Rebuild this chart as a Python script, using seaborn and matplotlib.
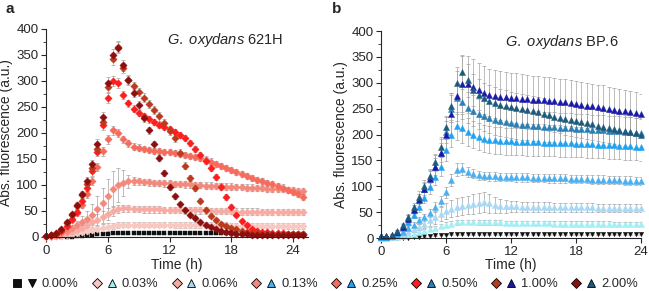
import matplotlib
matplotlib.use("Agg")
import matplotlib.pyplot as plt
import numpy as np
import pandas as pd
import seaborn as sns
from matplotlib.lines import Line2D
from matplotlib.legend_handler import HandlerTuple
from matplotlib.ticker import MultipleLocator

# ---- data (30 min sampling) ----
conc_labels = ["0.00%", "0.03%", "0.06%", "0.13%", "0.25%", "0.50%", "1.00%", "2.00%"]

time_a = np.arange(0, 25.01, 0.5)
time_b = np.arange(0, 24.01, 0.5)

# panel a: G. oxydans 621H
a_000 = [0, 0, 0, 0, 0, 0, 1, 2, 3, 4, 5, 6, 6, 7, 7, 7, 7, 7, 7, 7, 7, 7, 7, 7, 7, 7,
         7, 7, 7, 7, 7, 7, 7, 7, 7, 7, 7, 7, 7, 7, 6, 6, 6, 6, 6, 6, 6, 6, 6, 6, 6]
a_003 = [0, 0, 1, 2, 3, 5, 7, 9, 11, 13, 15, 17, 19, 21, 23, 24, 24, 24, 24, 24, 24, 24, 24, 24, 24, 23,
         23, 23, 23, 23, 23, 23, 23, 23, 23, 23, 22, 22, 22, 22, 22, 22, 22, 22, 22, 22, 21, 21, 21, 21, 21]
a_006 = [1, 1, 2, 4, 7, 10, 14, 18, 23, 28, 33, 38, 44, 50, 54, 55, 55, 54, 54, 53, 53, 53, 53, 52, 52, 52,
         52, 51, 51, 51, 51, 51, 50, 50, 50, 50, 50, 49, 49, 49, 49, 49, 48, 48, 48, 48, 48, 48, 48, 48, 48]
a_013 = [1, 2, 3, 7, 12, 17, 23, 29, 35, 43, 53, 66, 79, 92, 100, 104, 107, 108, 107, 106, 105, 104, 104, 103, 103, 102,
         102, 101, 101, 100, 100, 99, 99, 98, 98, 97, 97, 96, 96, 95, 95, 94, 94, 93, 93, 92, 92, 91, 90, 89, 88]
a_025 = [2, 3, 5, 11, 20, 32, 46, 62, 82, 108, 135, 165, 188, 205, 200, 188, 180, 174, 172, 169, 167, 166, 165, 164, 163, 162,
         160, 158, 156, 154, 152, 149, 145, 141, 137, 133, 129, 125, 121, 117, 113, 110, 107, 104, 101, 98, 95, 91, 87, 82, 77]
a_050 = [2, 3, 5, 12, 22, 35, 49, 70, 95, 126, 164, 215, 268, 300, 296, 273, 257, 247, 238, 232, 226, 221, 216, 212, 208, 202,
         196, 190, 181, 169, 158, 147, 132, 116, 97, 77, 58, 42, 31, 23, 16, 12, 10, 9, 8, 7, 7, 6, 6, 6, 6]
a_100 = [2, 3, 6, 14, 26, 42, 60, 80, 102, 132, 170, 222, 288, 342, 366, 325, 302, 290, 279, 268, 256, 244, 232, 219, 204, 190,
         162, 137, 113, 94, 70, 52, 40, 32, 25, 21, 17, 15, 12, 10, 8, 7, 6, 6, 5, 5, 5, 5, 5, 5, 5]
a_200 = [2, 3, 7, 15, 28, 44, 62, 82, 108, 140, 178, 230, 296, 350, 364, 330, 302, 277, 254, 229, 205, 178, 152, 123, 96, 78,
         63, 51, 42, 36, 29, 24, 19, 15, 11, 9, 7, 6, 5, 5, 4, 4, 4, 4, 3, 3, 3, 3, 3, 3, 3]

a_000_sd = [1, 1, 1, 1, 1, 1, 1, 1, 1, 1, 1, 1, 1, 1, 1, 1, 1, 1, 1, 1, 1, 1, 1, 1, 1, 1,
            1, 1, 1, 1, 1, 1, 1, 1, 1, 1, 1, 1, 1, 1, 1, 1, 1, 1, 1, 1, 1, 1, 1, 1, 1]
a_003_sd = [1, 1, 1, 2, 2, 3, 4, 5, 6, 7, 8, 8, 7, 6, 5, 5, 5, 5, 5, 5, 5, 5, 5, 5, 5, 5,
            5, 5, 5, 5, 5, 5, 5, 5, 5, 5, 5, 5, 5, 5, 5, 5, 5, 5, 5, 5, 5, 5, 5, 5, 5]
a_006_sd = [1, 1, 1, 2, 3, 4, 5, 6, 8, 10, 12, 12, 11, 10, 8, 7, 6, 6, 6, 6, 6, 6, 6, 6, 6, 6,
            6, 6, 6, 6, 6, 6, 6, 6, 6, 6, 6, 6, 6, 6, 6, 6, 6, 6, 6, 6, 6, 6, 6, 6, 6]
a_013_sd = [1, 1, 2, 3, 4, 6, 8, 11, 15, 20, 25, 28, 32, 35, 33, 25, 12, 8, 7, 6, 6, 6, 6, 6, 6, 6,
            6, 6, 6, 6, 6, 6, 6, 6, 6, 6, 6, 6, 6, 6, 6, 6, 6, 6, 6, 6, 6, 6, 6, 6, 6]
a_025_sd = [1, 1, 2, 2, 3, 4, 5, 6, 7, 8, 8, 9, 9, 9, 8, 7, 6, 6, 6, 6, 6, 6, 6, 6, 6, 6,
            6, 6, 6, 6, 6, 6, 6, 6, 6, 6, 6, 6, 6, 6, 6, 6, 6, 6, 6, 6, 6, 6, 6, 6, 6]
a_050_sd = [1, 1, 2, 2, 3, 4, 5, 6, 7, 8, 9, 10, 10, 10, 9, 8, 7, 7, 6, 6, 6, 6, 6, 6, 6, 6,
            6, 6, 6, 6, 6, 6, 6, 6, 6, 5, 5, 4, 4, 3, 3, 3, 2, 2, 2, 2, 2, 2, 2, 2, 2]
a_100_sd = [1, 1, 2, 3, 4, 5, 6, 7, 8, 9, 10, 11, 12, 12, 11, 9, 8, 8, 8, 8, 8, 8, 8, 8, 8, 8,
            7, 7, 6, 6, 5, 5, 4, 4, 3, 3, 3, 3, 2, 2, 2, 2, 2, 2, 2, 2, 2, 2, 2, 2, 2]
a_200_sd = [1, 1, 2, 3, 4, 5, 6, 7, 8, 9, 10, 11, 12, 12, 11, 10, 9, 8, 8, 7, 7, 7, 6, 6, 6, 5,
            5, 5, 4, 4, 4, 3, 3, 3, 3, 2, 2, 2, 2, 2, 2, 2, 2, 2, 2, 2, 2, 2, 2, 2, 2]

# panel b: G. oxydans BP.6
b_000 = [0, 0, 0, 0, 0, 0, 1, 2, 3, 4, 5, 6, 6, 7, 7, 7, 7, 7, 7, 7, 7, 7, 7, 7, 7,
         7, 7, 7, 7, 7, 7, 7, 7, 7, 7, 7, 7, 7, 7, 7, 7, 7, 7, 7, 7, 7, 7, 7, 7]
b_003 = [0, 0, 1, 2, 4, 6, 8, 11, 14, 17, 20, 23, 26, 28, 30, 31, 31, 31, 30, 30, 30, 30, 30, 29, 29,
         29, 29, 29, 29, 29, 29, 29, 28, 28, 28, 28, 28, 28, 28, 28, 28, 28, 28, 27, 27, 27, 27, 27, 27]
b_006 = [0, 0, 2, 5, 8, 12, 17, 22, 28, 34, 40, 46, 52, 57, 60, 62, 64, 66, 68, 69, 67, 64, 62, 61, 61,
         61, 60, 60, 60, 60, 60, 60, 59, 59, 59, 59, 59, 59, 59, 59, 58, 58, 58, 58, 58, 58, 58, 58, 58]
b_013 = [1, 1, 3, 6, 12, 19, 26, 34, 40, 49, 60, 72, 88, 112, 132, 133, 128, 124, 121, 120, 119, 119, 118, 118, 118,
         117, 117, 117, 116, 116, 116, 115, 115, 115, 115, 114, 114, 114, 114, 113, 113, 113, 112, 112, 112, 111, 111, 110, 110]
b_025 = [2, 2, 4, 10, 19, 31, 45, 60, 78, 98, 118, 138, 170, 200, 216, 212, 205, 200, 196, 192, 190, 189, 188, 187, 187,
         186, 186, 185, 185, 185, 184, 184, 184, 183, 183, 183, 182, 182, 181, 181, 180, 180, 179, 179, 178, 177, 177, 176, 175]
b_050 = [3, 3, 5, 12, 23, 38, 56, 75, 95, 115, 138, 165, 205, 250, 270, 262, 252, 246, 240, 235, 231, 228, 226, 224, 222,
         220, 219, 218, 217, 216, 215, 214, 214, 213, 212, 212, 211, 210, 210, 209, 209, 208, 207, 207, 206, 205, 204, 203, 202]
b_100 = [3, 3, 5, 12, 22, 37, 55, 74, 94, 114, 138, 165, 200, 240, 275, 298, 297, 292, 286, 281, 277, 275, 273, 272, 271,
         270, 269, 268, 267, 267, 266, 265, 264, 263, 262, 261, 259, 258, 256, 255, 253, 252, 250, 248, 246, 245, 243, 241, 239]
b_200 = [3, 3, 6, 13, 25, 41, 60, 80, 100, 120, 146, 176, 214, 255, 300, 320, 305, 286, 277, 270, 265, 261, 258, 256, 253,
         251, 249, 247, 245, 243, 240, 237, 234, 232, 230, 228, 226, 224, 222, 220, 217, 215, 213, 211, 209, 207, 204, 202, 200]

b_000_sd = [1, 1, 1, 1, 1, 1, 1, 1, 1, 1, 1, 1, 1, 1, 1, 1, 1, 1, 1, 1, 1, 1, 1, 1, 1,
            1, 1, 1, 1, 1, 1, 1, 1, 1, 1, 1, 1, 1, 1, 1, 1, 1, 1, 1, 1, 1, 1, 1, 1]
b_003_sd = [1, 1, 1, 2, 2, 3, 3, 4, 4, 4, 4, 4, 4, 4, 4, 4, 4, 4, 4, 4, 4, 4, 4, 4, 4,
            4, 4, 4, 4, 4, 4, 4, 4, 4, 4, 4, 4, 4, 4, 4, 4, 4, 4, 4, 4, 4, 4, 4, 4]
b_006_sd = [1, 1, 1, 2, 3, 4, 5, 6, 8, 10, 12, 14, 15, 16, 17, 18, 18, 19, 19, 19, 18, 16, 14, 12, 11,
            10, 10, 10, 9, 9, 9, 9, 9, 9, 9, 9, 8, 8, 8, 8, 8, 8, 8, 8, 8, 8, 8, 8, 8]
b_013_sd = [1, 1, 1, 2, 3, 4, 5, 6, 7, 8, 9, 10, 11, 12, 12, 11, 10, 9, 8, 8, 8, 8, 8, 8, 8,
            8, 8, 8, 8, 8, 8, 8, 8, 8, 8, 8, 8, 8, 8, 8, 8, 8, 8, 8, 8, 8, 8, 8, 8]
b_025_sd = [1, 1, 2, 3, 4, 5, 7, 9, 11, 13, 15, 18, 21, 24, 27, 28, 27, 27, 26, 26, 26, 26, 26, 26, 26,
            26, 26, 26, 26, 26, 26, 26, 26, 26, 26, 26, 26, 26, 26, 26, 26, 26, 26, 26, 26, 26, 26, 26, 26]
b_050_sd = [1, 1, 2, 3, 4, 6, 8, 10, 12, 14, 16, 19, 22, 26, 30, 32, 30, 30, 29, 29, 29, 29, 29, 29, 29,
            29, 29, 29, 29, 29, 29, 29, 29, 29, 29, 29, 29, 29, 29, 29, 29, 29, 29, 29, 29, 29, 29, 29, 29]
b_100_sd = [1, 1, 2, 3, 5, 7, 9, 12, 15, 18, 22, 27, 33, 40, 48, 55, 55, 53, 52, 51, 50, 50, 49, 49, 48,
            48, 48, 47, 47, 47, 46, 46, 46, 45, 45, 45, 44, 44, 44, 43, 43, 43, 42, 42, 42, 41, 41, 41, 40]
b_200_sd = [1, 1, 2, 3, 4, 6, 8, 10, 12, 14, 16, 19, 22, 26, 30, 32, 32, 31, 30, 30, 30, 30, 30, 30, 30,
            30, 30, 30, 30, 30, 30, 30, 30, 30, 30, 30, 30, 30, 30, 30, 30, 30, 30, 30, 30, 30, 30, 30, 30]

series_a = [a_000, a_003, a_006, a_013, a_025, a_050, a_100, a_200]
sd_a = [a_000_sd, a_003_sd, a_006_sd, a_013_sd, a_025_sd, a_050_sd, a_100_sd, a_200_sd]
series_b = [b_000, b_003, b_006, b_013, b_025, b_050, b_100, b_200]
sd_b = [b_000_sd, b_003_sd, b_006_sd, b_013_sd, b_025_sd, b_050_sd, b_100_sd, b_200_sd]

reds = ["#111111", "#f8c9c2", "#f7aca3", "#f3897d", "#f56c5d", "#ff1c1c", "#bb3a1c", "#8c0f0f"]
blues = ["#111111", "#a4eef4", "#a9d8f4", "#4aaff0", "#1ea3f2", "#2a7fb5", "#1a1aa8", "#1c5a7c"]
markers_a = ["s", "D", "D", "D", "D", "D", "D", "D"]
markers_b = ["v", "^", "^", "^", "^", "^", "^", "^"]

sns.set_style("ticks")
plt.rcParams["font.family"] = ["Liberation Sans", "DejaVu Sans"]
plt.rcParams["mathtext.fontset"] = "custom"
plt.rcParams["mathtext.it"] = "Liberation Sans:italic"
plt.rcParams["mathtext.rm"] = "Liberation Sans"

fig = plt.figure(figsize=(6.49, 2.91), dpi=100)
ax_a = fig.add_axes([0.0709, 0.1856, 0.4037, 0.7148])
ax_b = fig.add_axes([0.5871, 0.1821, 0.4006, 0.7113])


def draw_panel(ax, t, series, sds, colors, markers, msize):
    for vals, sd, col, mk in zip(series, sds, colors, markers):
        df = pd.DataFrame({"t": t, "y": vals})
        ax.errorbar(df["t"], df["y"], yerr=sd, fmt="none", ecolor="#a3a3a3",
                    elinewidth=0.5, capsize=1.2, capthick=0.5, zorder=1)
        size = 10 if mk in ("s", "v") else msize
        sns.scatterplot(data=df, x="t", y="y", ax=ax, marker=mk, color=col,
                        s=size, edgecolor=col, linewidth=0.3, zorder=2,
                        clip_on=False, legend=False)


draw_panel(ax_a, time_a, series_a, sd_a, reds, markers_a, 14)
draw_panel(ax_b, time_b, series_b, sd_b, blues, markers_b, 19)

for ax, xmax, lab_y in [(ax_a, 25.45, -0.10), (ax_b, 24, -0.097)]:
    ax.set_xlim(0, xmax)
    ax.set_ylim(0, 400)
    ax.set_xticks([0, 6, 12, 18, 24])
    ax.yaxis.set_major_locator(MultipleLocator(50))
    ax.yaxis.set_minor_locator(MultipleLocator(25))
    ax.tick_params(axis="both", which="major", direction="out", length=3.5,
                   width=0.8, labelsize=9.5, pad=2)
    ax.tick_params(axis="y", which="minor", direction="out", length=2, width=0.6)
    ax.set_xlabel("Time (h)", fontsize=10)
    ax.set_ylabel("Abs. fluorescence (a.u.)", fontsize=10, labelpad=2)
    ax.xaxis.set_label_coords(0.5, lab_y)
    sns.despine(ax=ax)
    for sp in ax.spines.values():
        sp.set_linewidth(0.8)

ax_a.text(0.683, 0.947, r"$\it{G.\ oxydans}$ 621H", transform=ax_a.transAxes,
          ha="center", va="center", fontsize=10.5)
ax_b.text(0.696, 0.947, r"$\it{G.\ oxydans}$ BP.6", transform=ax_b.transAxes,
          ha="center", va="center", fontsize=10.5)

fig.text(0.008, 0.968, "a", fontsize=11, fontweight="bold", va="center")
fig.text(0.512, 0.968, "b", fontsize=11, fontweight="bold", va="center")

handles = []
for rc, bc, ma, mb in zip(reds, blues, markers_a, markers_b):
    h1 = Line2D([], [], ls="", marker=ma, markersize=5.5 if ma == "s" else 5,
                markerfacecolor=rc, markeredgecolor="black", markeredgewidth=0.6)
    h2 = Line2D([], [], ls="", marker=mb, markersize=6,
                markerfacecolor=bc, markeredgecolor="black", markeredgewidth=0.6)
    handles.append((h1, h2))

fig.legend(handles, conc_labels, loc="center", bbox_to_anchor=(0.5, 0.024), ncol=8,
           frameon=False, fontsize=9.3, handler_map={tuple: HandlerTuple(ndivide=None, pad=0.3)},
           handlelength=2.0, handletextpad=0.35, columnspacing=1.0, borderaxespad=0)

fig.savefig("out.png", dpi=100)
